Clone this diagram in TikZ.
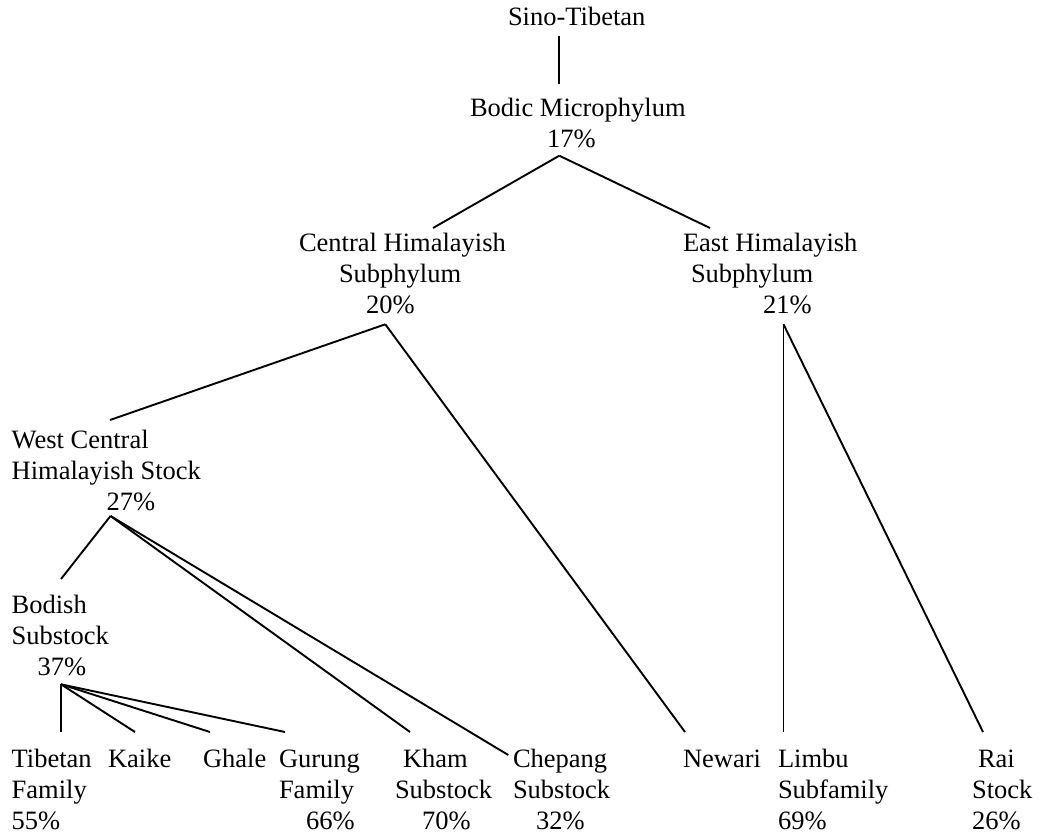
\documentclass[tikz,border=0pt]{standalone}
\usepackage{fontspec}
\setmainfont{Liberation Serif}

% a label made of stacked lines; the baseline of the first line is the node's base
\newcommand\rows[1]{\begin{tabular}[t]{@{}l@{}}#1\end{tabular}}
\newcommand\indentby[1]{\hspace*{#1pt}}

\tikzset{
  lab/.style={anchor=base west, inner sep=0pt, outer sep=0pt,
              font=\fontsize{26.5}{31}\selectfont},
  edge/.style={line width=1.9pt},
}

\begin{document}
\begin{tikzpicture}[x=1pt,y=-1pt]
\useasboundingbox (0,0) rectangle (1040,837);

% ---------- labels ----------
\node[lab] (sino)    at (508,25.7)  {Sino-Tibetan};
\node[lab] (bodic)   at (470,116.7) {\rows{Bodic Microphylum\\ \indentby{77}17\%}};
\node[lab] (central) at (299,251.7) {\rows{Central Himalayish\\ \indentby{40}Subphylum\\ \indentby{67}20\%}};
\node[lab] (east)    at (683,251.7) {\rows{East Himalayish\\ \indentby{8}Subphylum\\ \indentby{80}21\%}};
\node[lab] (wcentral) at (11.7,448.3) {\rows{West Central\\ Himalayish Stock\\ \indentby{95}27\%}};
\node[lab] (bodish)  at (11.7,613)  {\rows{Bodish\\ Substock\\ \indentby{26}37\%}};

\node[lab] (tibetan) at (11.7,767)  {\rows{Tibetan\\ Family\\ 55\%}};
\node[lab] (kaike)   at (108,767)   {Kaike};
\node[lab] (ghale)   at (203,767)   {Ghale};
\node[lab] (gurung)  at (279,767)   {\rows{Gurung\\ Family\\ \indentby{27}66\%}};
\node[lab] (kham)    at (395,767)   {\rows{\indentby{8}Kham\\ Substock\\ \indentby{27}70\%}};
\node[lab] (chepang) at (513,767)   {\rows{Chepang\\ Substock\\ \indentby{23}32\%}};
\node[lab] (newari)  at (683,767)   {Newari};
\node[lab] (limbu)   at (778,767)   {\rows{Limbu\\ Subfamily\\ 69\%}};
\node[lab] (rai)     at (972,767)   {\rows{\indentby{6}Rai\\ Stock\\ 26\%}};

% ---------- attachment points ----------
\coordinate (sino-out)     at (559.3,36);
\coordinate (bodic-in)     at (559.3,84.3);
\coordinate (bodic-out)    at (559.3,155.7);
\coordinate (central-in)   at (433,228);
\coordinate (central-out)  at (385.3,324.3);
\coordinate (east-in)      at (710,228);
\coordinate (east-out)     at (783.5,324.3);
\coordinate (wcentral-in)  at (110,420);
\coordinate (wcentral-out) at (110.5,516);
\coordinate (bodish-in)    at (61,579);
\coordinate (bodish-out)   at (61,684.3);
\coordinate (tibetan-in)   at (61,732);
\coordinate (kaike-in)     at (135,732);
\coordinate (ghale-in)     at (210,732);
\coordinate (gurung-in)    at (285,732);
\coordinate (kham-in)      at (410,732);
\coordinate (chepang-in)   at (508.3,755);
\coordinate (newari-in)    at (685,732);
\coordinate (limbu-in)     at (783.5,732);
\coordinate (rai-in)       at (983,732);

% ---------- tree edges ----------
\draw[edge] (sino-out) -- (bodic-in);
\draw[edge] (bodic-out) -- (central-in);
\draw[edge] (bodic-out) -- (east-in);
\draw[edge] (central-out) -- (wcentral-in);
\draw[edge] (central-out) -- (newari-in);
\draw[edge] (east-out) -- (limbu-in);
\draw[edge] (east-out) -- (rai-in);
\draw[edge] (wcentral-out) -- (bodish-in);
\draw[edge] (wcentral-out) -- (kham-in);
\draw[edge] (wcentral-out) -- (chepang-in);
\draw[edge] (bodish-out) -- (tibetan-in);
\draw[edge] (bodish-out) -- (kaike-in);
\draw[edge] (bodish-out) -- (ghale-in);
\draw[edge] (bodish-out) -- (gurung-in);
\end{tikzpicture}
\end{document}
